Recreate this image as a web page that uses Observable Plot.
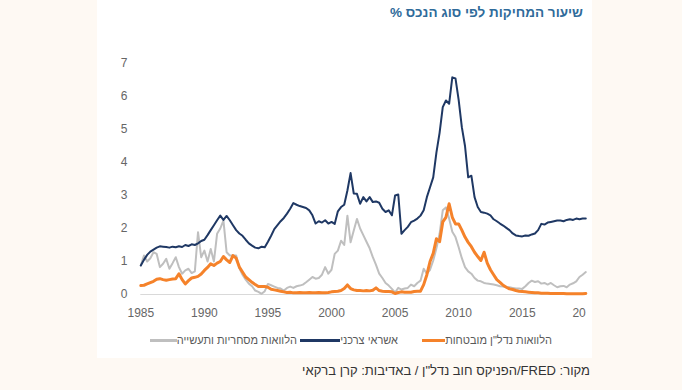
<!DOCTYPE html>
<html lang="he">
<head>
<meta charset="utf-8">
<script src="https://cdn.jsdelivr.net/npm/d3@7"></script>
<script src="https://cdn.jsdelivr.net/npm/@observablehq/plot@0.6"></script>
<style>
  html, body { margin: 0; padding: 0; }
  body { width: 682px; height: 390px; background: #fef9f3; position: relative; overflow: hidden; font-family: "Liberation Sans", Arial, sans-serif; }
  #panel { position: absolute; left: 97px; top: 0; width: 495px; height: 358px; background: #ffffff; }
  #title { position: absolute; right: 9px; top: 5px; direction: rtl; font-weight: bold; font-size: 13.5px; color: #2f6b9a; white-space: nowrap; }
  #chart { position: absolute; left: 0; top: 40px; width: 495px; height: 290px; }
  #chart svg { max-width: none !important; }
  .leg { position: absolute; top: 333px; height: 14px; display: flex; flex-direction: row; align-items: center; direction: rtl; font-size: 11px; color: #595959; white-space: nowrap; }
  .leg .sw { height: 3px; }
  #source { position: absolute; right: 92px; top: 363px; direction: rtl; font-size: 13px; color: #333; white-space: nowrap; }
</style>
</head>
<body>
<div id="panel">
  <div id="title"></div>
  <div id="chart"></div>
</div>
<div id="legend"></div>
<div id="source"></div>
<script>
// ---- texts ----
const titleText = "שיעור המחיקות לפי סוג הנכס %";
const sourceText = "מקור: FRED/הפניקס חוב נדל\"ן / באדיבות: קרן ברקאי";
const seriesNames = ["הלוואות נדל\"ן מובטחות", "אשראי צרכני", "הלוואות מסחריות ותעשייה"];
const seriesColors = ["#f5822a", "#1f3864", "#bfbfbf"];

// ---- ticks ----
const xTicks = [1985, 1990, 1995, 2000, 2005, 2010, 2015];
const xTickLast = [2020];
const xTickLastLabel = "20";
const yTicks = [0, 1, 2, 3, 4, 5, 6, 7];

// ---- quarterly observations, 1985Q1 .. 2020Q1 ----
const startYear = 1985;
const consumer = [
  0.88, 1.05, 1.20, 1.30,
  1.36, 1.42, 1.46, 1.45,
  1.44, 1.42, 1.45, 1.43,
  1.46, 1.44, 1.50, 1.47,
  1.52, 1.50, 1.55, 1.62,
  1.66, 1.80, 1.95, 2.10,
  2.25, 2.39, 2.26, 2.38,
  2.25, 2.10, 1.95, 1.85,
  1.78, 1.66, 1.55, 1.48,
  1.42, 1.40, 1.45, 1.43,
  1.60, 1.78, 1.98, 2.10,
  2.22, 2.32, 2.45, 2.60,
  2.77, 2.72, 2.68, 2.65,
  2.62, 2.55, 2.40, 2.15,
  2.22, 2.18, 2.25, 2.15,
  2.20, 2.14, 2.52, 2.65,
  2.72, 3.15, 3.68, 3.06,
  3.05, 2.75, 2.95, 2.82,
  2.95, 2.80, 2.82, 2.78,
  2.60, 2.50, 2.55, 2.40,
  3.00, 3.03, 1.84, 1.95,
  2.05, 2.19, 2.24, 2.30,
  2.39, 2.55, 2.95, 3.25,
  3.55, 4.30, 4.90, 5.68,
  5.88, 5.78, 6.58, 6.55,
  5.90, 5.07, 4.50, 3.55,
  3.60, 2.95, 2.65, 2.50,
  2.48, 2.45, 2.40, 2.28,
  2.22, 2.15, 2.09, 2.02,
  1.95, 1.85, 1.79, 1.77,
  1.76, 1.79, 1.78, 1.82,
  1.85, 1.95, 2.14, 2.12,
  2.18, 2.20, 2.22, 2.24,
  2.24, 2.22, 2.26, 2.28,
  2.26, 2.30, 2.28, 2.30,
  2.30
];
const realEstate = [
  0.27, 0.28, 0.32, 0.36,
  0.40, 0.46, 0.48, 0.45,
  0.43, 0.45, 0.47, 0.48,
  0.63, 0.45, 0.32, 0.42,
  0.50, 0.52, 0.55, 0.62,
  0.73, 0.82, 0.93, 0.88,
  0.95, 1.00, 1.15, 1.05,
  0.97, 1.18, 1.10, 0.83,
  0.68, 0.53, 0.45, 0.37,
  0.30, 0.24, 0.24, 0.24,
  0.22, 0.16, 0.14, 0.12,
  0.10, 0.08, 0.06, 0.07,
  0.05, 0.05, 0.06, 0.05,
  0.05, 0.06, 0.05, 0.05,
  0.06, 0.05, 0.05, 0.06,
  0.08, 0.09, 0.10, 0.12,
  0.18, 0.29, 0.18, 0.14,
  0.12, 0.12, 0.11, 0.12,
  0.11, 0.13, 0.20, 0.12,
  0.10, 0.09, 0.09, 0.08,
  0.03, 0.06, 0.08, 0.07,
  0.07, 0.07, 0.09, 0.10,
  0.10, 0.30, 0.60, 1.00,
  1.25, 1.69, 1.60, 2.20,
  2.34, 2.75, 2.34, 2.14,
  2.14, 1.95, 1.74, 1.58,
  1.45, 1.28, 1.15, 1.03,
  1.28, 0.95, 0.75, 0.60,
  0.45, 0.37, 0.28, 0.22,
  0.17, 0.15, 0.12, 0.10,
  0.09, 0.08, 0.07, 0.06,
  0.05, 0.05, 0.04, 0.04,
  0.04, 0.03, 0.03, 0.03,
  0.03, 0.03, 0.02, 0.02,
  0.02, 0.02, 0.02, 0.02,
  0.03
];
const commercial = [
  0.88, 1.18, 1.00, 1.10,
  1.28, 1.23, 0.83, 0.93,
  1.08, 0.78, 0.95, 1.13,
  0.83, 0.63, 0.73, 0.78,
  0.65, 0.70, 1.89, 1.13,
  1.33, 1.00, 1.38, 1.00,
  1.84, 2.00, 2.24, 1.28,
  1.18, 1.18, 1.18, 0.80,
  0.60, 0.45, 0.33, 0.25,
  0.12, 0.08, 0.02, 0.10,
  0.32, 0.28, 0.24, 0.20,
  0.18, 0.12, 0.20, 0.24,
  0.20, 0.25, 0.27, 0.30,
  0.37, 0.45, 0.53, 0.48,
  0.50, 0.60, 0.83, 0.63,
  0.75, 1.23, 1.33, 1.63,
  1.50, 2.39, 1.58, 1.94,
  2.29, 2.00, 1.80, 1.60,
  1.40, 1.13, 0.90, 0.63,
  0.50, 0.35, 0.27, 0.17,
  0.06, 0.20, 0.15, 0.18,
  0.20, 0.30, 0.25, 0.35,
  0.42, 0.78, 0.63, 0.75,
  1.03, 1.40, 1.84, 2.55,
  2.64, 2.30, 1.90, 1.74,
  1.43, 1.10, 0.83, 0.70,
  0.63, 0.50, 0.42, 0.40,
  0.35, 0.33, 0.32, 0.30,
  0.28, 0.25, 0.24, 0.22,
  0.22, 0.20, 0.18, 0.18,
  0.17, 0.25, 0.35, 0.42,
  0.38, 0.40, 0.33, 0.35,
  0.30, 0.35, 0.28, 0.22,
  0.25, 0.26, 0.22, 0.30,
  0.34, 0.40, 0.53, 0.60,
  0.68
];

const t = (d, i) => startYear + i / 4;

document.getElementById("title").textContent = titleText;
document.getElementById("source").textContent = sourceText;

const chart = Plot.plot({
  width: 495,
  height: 290,
  marginLeft: 43.3,
  marginRight: 6.7,
  marginTop: 23,
  marginBottom: 36,
  style: { fontFamily: "Liberation Sans, Arial, sans-serif", fontSize: "12px", color: "#666", background: "transparent", overflow: "visible" },
  x: { domain: [1985, 2020], label: null },
  y: { domain: [0, 7], label: null },
  marks: [
    Plot.ruleY([0], { stroke: "#d9d9d9", strokeWidth: 1 }),
    Plot.axisX({ ticks: xTicks, tickFormat: d => String(d), tickSize: 0, tickPadding: 14, label: null, fill: "#666" }),
    Plot.axisX({ ticks: xTickLast, tickFormat: () => xTickLastLabel, tickSize: 0, tickPadding: 14, label: null, fill: "#666", textAnchor: "end", dx: 0 }),
    Plot.axisY({ ticks: yTicks, tickFormat: d3.format("d"), tickSize: 0, tickPadding: 13.3, label: null, fill: "#666" }),
    Plot.line(commercial, { x: t, y: d => d, stroke: seriesColors[2], strokeWidth: 2, curve: "linear" }),
    Plot.line(consumer, { x: t, y: d => d, stroke: seriesColors[1], strokeWidth: 2, curve: "linear" }),
    Plot.line(realEstate, { x: t, y: d => d, stroke: seriesColors[0], strokeWidth: 3, curve: "linear" })
  ]
});
document.getElementById("chart").appendChild(chart);

// legend (right edges and swatch lengths in page px)
const legPos = [{ right: 552, sw: 23 }, { right: 398, sw: 40 }, { right: 297, sw: 27 }];
const legend = document.getElementById("legend");
seriesNames.forEach((name, i) => {
  const item = document.createElement("div");
  item.className = "leg";
  item.style.right = (682 - legPos[i].right) + "px";
  const txt = document.createElement("span");
  txt.textContent = name;
  const sw = document.createElement("span");
  sw.className = "sw";
  sw.style.width = legPos[i].sw + "px";
  sw.style.background = seriesColors[i];
  item.appendChild(txt);
  item.appendChild(sw);
  legend.appendChild(item);
});
</script>
</body>
</html>
